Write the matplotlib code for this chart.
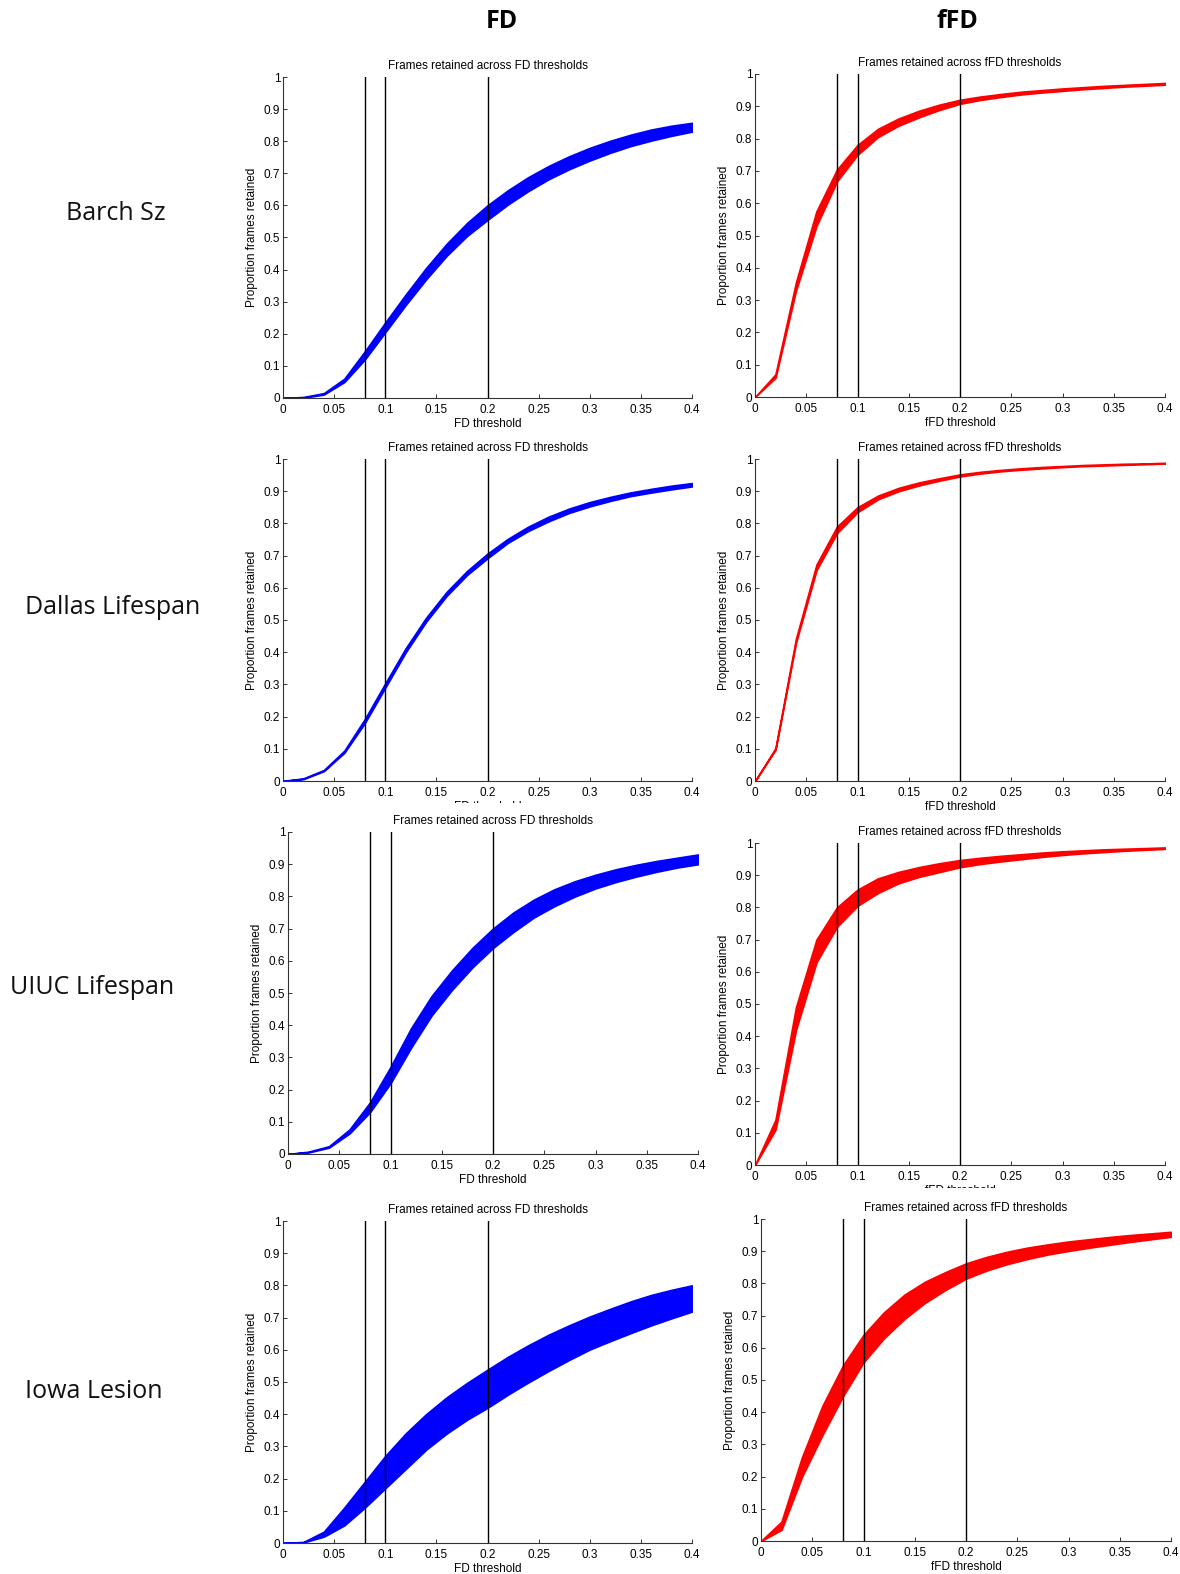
import matplotlib.pyplot as plt
from matplotlib.transforms import Bbox, TransformedBbox

plt.rcParams.update({'font.family': 'Liberation Sans', 'font.size': 8.5})

# thresholds (x) shared by all panels
thresh = [0.00, 0.02, 0.04, 0.06, 0.08, 0.10, 0.12, 0.14, 0.16, 0.18, 0.20,
          0.22, 0.24, 0.26, 0.28, 0.30, 0.32, 0.34, 0.36, 0.38, 0.40]
cutoffs = [0.08, 0.1, 0.2]

datasets = ['Barch Sz', 'Dallas Lifespan', 'UIUC Lifespan', 'Iowa Lesion']

# upper / lower bounds of proportion of frames retained
barch_fd_hi = [0, 0.003, 0.015, 0.06, 0.145, 0.235, 0.322, 0.405, 0.48, 0.545, 0.60,
               0.647, 0.688, 0.723, 0.753, 0.779, 0.801, 0.82, 0.836, 0.848, 0.857]
barch_fd_lo = [0, 0.001, 0.011, 0.05, 0.12, 0.205, 0.29, 0.37, 0.443, 0.505, 0.555,
               0.603, 0.645, 0.682, 0.713, 0.74, 0.764, 0.785, 0.802, 0.817, 0.83]
barch_ffd_hi = [0, 0.07, 0.355, 0.575, 0.704, 0.78, 0.83, 0.862, 0.886, 0.905, 0.92,
                0.93, 0.938, 0.945, 0.95, 0.955, 0.959, 0.963, 0.966, 0.969, 0.972]
barch_ffd_lo = [0, 0.06, 0.33, 0.53, 0.668, 0.75, 0.805, 0.84, 0.866, 0.889, 0.908,
                0.92, 0.929, 0.937, 0.943, 0.948, 0.953, 0.957, 0.961, 0.964, 0.967]

dallas_fd_hi = [0, 0.008, 0.034, 0.094, 0.192, 0.303, 0.412, 0.507, 0.587, 0.652, 0.706,
                0.752, 0.79, 0.821, 0.846, 0.866, 0.882, 0.896, 0.907, 0.917, 0.925]
dallas_fd_lo = [0, 0.006, 0.031, 0.088, 0.18, 0.29, 0.40, 0.495, 0.575, 0.64, 0.692,
                0.74, 0.777, 0.807, 0.833, 0.853, 0.87, 0.885, 0.896, 0.906, 0.915]
dallas_ffd_hi = [0, 0.102, 0.442, 0.672, 0.79, 0.85, 0.886, 0.91, 0.927, 0.94, 0.952,
                 0.96, 0.966, 0.971, 0.975, 0.978, 0.981, 0.983, 0.985, 0.986, 0.988]
dallas_ffd_lo = [0, 0.097, 0.43, 0.655, 0.77, 0.835, 0.875, 0.90, 0.918, 0.933, 0.946,
                 0.955, 0.962, 0.967, 0.971, 0.975, 0.978, 0.98, 0.982, 0.984, 0.986]

uiuc_fd_hi = [0, 0.007, 0.024, 0.076, 0.16, 0.27, 0.39, 0.49, 0.57, 0.64, 0.70,
              0.75, 0.79, 0.822, 0.847, 0.867, 0.884, 0.898, 0.91, 0.92, 0.93]
uiuc_fd_lo = [0, 0.005, 0.02, 0.064, 0.13, 0.22, 0.33, 0.43, 0.51, 0.58, 0.64,
              0.69, 0.735, 0.77, 0.80, 0.825, 0.845, 0.862, 0.877, 0.89, 0.90]
uiuc_ffd_hi = [0, 0.14, 0.49, 0.70, 0.80, 0.855, 0.89, 0.91, 0.925, 0.937, 0.947,
               0.954, 0.96, 0.965, 0.97, 0.974, 0.977, 0.98, 0.982, 0.984, 0.986]
uiuc_ffd_lo = [0, 0.11, 0.42, 0.63, 0.74, 0.805, 0.845, 0.875, 0.895, 0.91, 0.925,
               0.935, 0.943, 0.95, 0.957, 0.963, 0.968, 0.972, 0.976, 0.979, 0.982]

iowa_fd_hi = [0, 0.003, 0.035, 0.11, 0.19, 0.27, 0.34, 0.40, 0.452, 0.497, 0.538,
              0.578, 0.614, 0.647, 0.676, 0.703, 0.727, 0.75, 0.77, 0.786, 0.80]
iowa_fd_lo = [0, 0.002, 0.02, 0.055, 0.11, 0.17, 0.23, 0.29, 0.34, 0.383, 0.42,
              0.461, 0.499, 0.535, 0.569, 0.601, 0.627, 0.652, 0.676, 0.698, 0.719]
iowa_ffd_hi = [0, 0.06, 0.26, 0.42, 0.545, 0.64, 0.71, 0.765, 0.805, 0.835, 0.862,
               0.882, 0.898, 0.911, 0.921, 0.93, 0.937, 0.944, 0.95, 0.955, 0.96]
iowa_ffd_lo = [0, 0.035, 0.20, 0.33, 0.45, 0.555, 0.63, 0.69, 0.74, 0.78, 0.815,
               0.84, 0.86, 0.876, 0.89, 0.901, 0.911, 0.92, 0.929, 0.937, 0.945]

fd_bands = [(barch_fd_lo, barch_fd_hi), (dallas_fd_lo, dallas_fd_hi),
            (uiuc_fd_lo, uiuc_fd_hi), (iowa_fd_lo, iowa_fd_hi)]
ffd_bands = [(barch_ffd_lo, barch_ffd_hi), (dallas_ffd_lo, dallas_ffd_hi),
             (uiuc_ffd_lo, uiuc_ffd_hi), (iowa_ffd_lo, iowa_ffd_hi)]

W, H = 1180, 1574
fig = plt.figure(figsize=(W / 100, H / 100), dpi=100)

# pasted panels are not on a perfect grid: left, top, right, bottom in pixels
fd_boxes = [(283, 77, 692, 398), (283, 459, 692, 781),
            (288, 832, 698, 1154), (283, 1221, 692, 1543)]
ffd_boxes = [(755, 74, 1165, 397), (755, 459, 1165, 781),
             (755, 843, 1165, 1165), (761, 1219, 1171, 1541)]
# some x labels are partly hidden by the panel pasted below them
fd_clip = [None, 803, None, None]
ffd_clip = [None, None, 1188, None]


def panel(box, lo, hi, color, name, clip):
    l, t, r, b = box
    ax = fig.add_axes([l / W, 1 - b / H, (r - l) / W, (b - t) / H])
    ax.fill_between(thresh, lo, hi, color=color, lw=1.3, edgecolor=color, zorder=2)
    for c in cutoffs:
        ax.plot([c, c], [0, 1], color='black', lw=1.0, zorder=3)
    ax.set_xlim(0, 0.4)
    ax.set_ylim(0, 1)
    ax.set_xticks([0, 0.05, 0.1, 0.15, 0.2, 0.25, 0.3, 0.35, 0.4])
    ax.set_xticklabels(['0', '0.05', '0.1', '0.15', '0.2', '0.25', '0.3', '0.35', '0.4'])
    ax.set_yticks([i / 10 for i in range(11)])
    ax.set_yticklabels(['0'] + ['0.%d' % i for i in range(1, 10)] + ['1'])
    for s in ['top', 'right']:
        ax.spines[s].set_visible(False)
    for s in ['left', 'bottom']:
        ax.spines[s].set_color('#333333')
        ax.spines[s].set_linewidth(0.8)
    ax.tick_params(direction='in', length=3, width=0.7, color='#333333', labelsize=8.5)
    ax.tick_params(axis='x', pad=4)
    ax.tick_params(axis='y', pad=2)
    ax.set_title('Frames retained across %s thresholds' % name, fontsize=8.5, pad=6)
    ax.set_ylabel('Proportion frames retained', fontsize=8.5)
    ax.yaxis.set_label_coords(-0.06, 0.5)
    xl = ax.set_xlabel('%s threshold' % name, fontsize=8.5)
    ax.xaxis.set_label_coords(0.5, -0.062)
    if clip is not None:
        xl.set_clip_box(TransformedBbox(Bbox.from_extents(0, 1 - clip / H, 1, 1), fig.transFigure))
        xl.set_clip_on(True)
    return ax


for i in range(4):
    panel(fd_boxes[i], fd_bands[i][0], fd_bands[i][1], 'blue', 'FD', fd_clip[i])
    panel(ffd_boxes[i], ffd_bands[i][0], ffd_bands[i][1], 'red', 'fFD', ffd_clip[i])

# column headers
fig.text(502 / W, 1 - 22 / H, 'FD', ha='center', va='center', fontsize=18,
         fontweight='bold', family='Open Sans')
fig.text(957 / W, 1 - 22 / H, 'fFD', ha='center', va='center', fontsize=18,
         fontweight='bold', family='Open Sans')

# row labels
row_x = [66, 25, 10, 25]
row_y = [213, 607, 987, 1391]
for name, x, y in zip(datasets, row_x, row_y):
    fig.text(x / W, 1 - y / H, name, ha='left', va='center', fontsize=18,
             family='Open Sans', color='#111111')

fig.savefig('out.png', dpi=100)
